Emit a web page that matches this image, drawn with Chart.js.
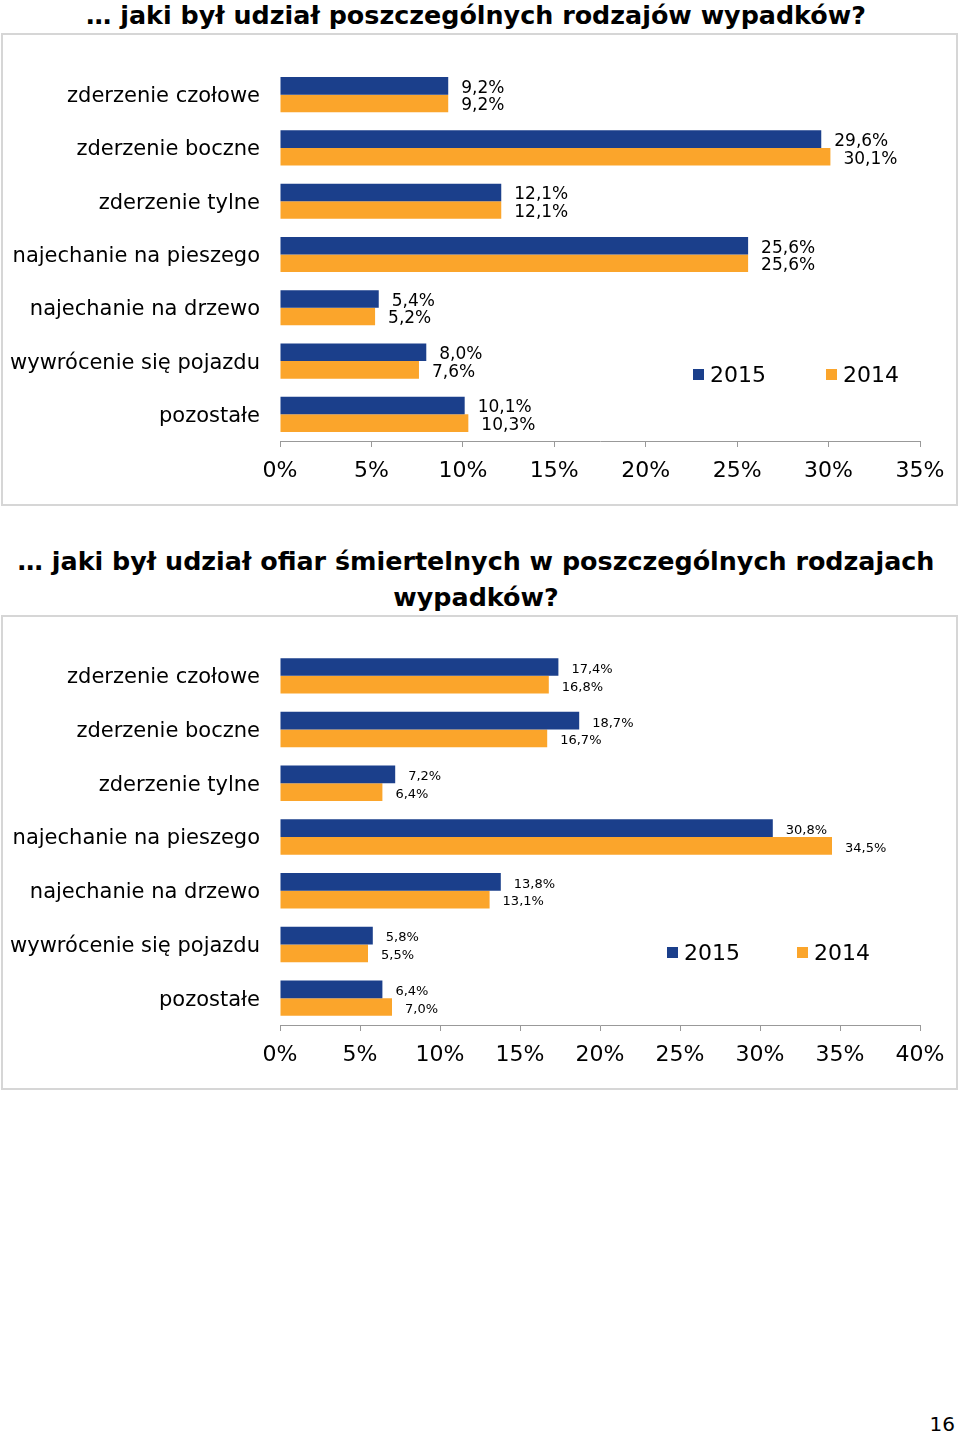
<!DOCTYPE html>
<html><head><meta charset="utf-8">
<script src="https://cdn.jsdelivr.net/npm/chart.js@4/dist/chart.umd.min.js"></script>
<style>
body{margin:0;width:960px;height:1434px;position:relative;background:#fff;font-family:"DejaVu Sans",Verdana,sans-serif;overflow:hidden}
.title{position:absolute;left:0;width:952px;text-align:center;font-weight:bold;font-size:25.4px;line-height:36px;color:#000;white-space:nowrap}
.box{position:absolute;left:1px;width:957px;border:2px solid #d6d6d6;box-sizing:border-box}
.wrap{position:absolute;left:0;width:960px}
.pnum{position:absolute;right:5px;top:1412px;font-size:20px;line-height:24px}
</style></head>
<body>
<div class="title" style="top:-3px">… jaki był udział poszczególnych rodzajów wypadków?</div>
<div class="box" style="top:33px;height:473px"></div>
<div class="wrap" style="top:33px;height:473px"><canvas id="c1"></canvas></div>
<div class="title" style="top:543px">… jaki był udział ofiar śmiertelnych w poszczególnych rodzajach<br>wypadków?</div>
<div class="box" style="top:615px;height:475px"></div>
<div class="wrap" style="top:615px;height:475px"><canvas id="c2"></canvas></div>
<div class="pnum">16</div>
<script>
const categories = ['zderzenie czołowe','zderzenie boczne','zderzenie tylne','najechanie na pieszego','najechanie na drzewo','wywrócenie się pojazdu','pozostałe'];
const seriesLabels = ['2015','2014'];
const accidents2015 = [9.2,29.6,12.1,25.6,5.4,8.0,10.1];
const accidents2014 = [9.2,30.1,12.1,25.6,5.2,7.6,10.3];
const fatal2015 = [17.4,18.7,7.2,30.8,13.8,5.8,6.4];
const fatal2014 = [16.8,16.7,6.4,34.5,13.1,5.5,7.0];
const accidentsTicks = [0,5,10,15,20,25,30,35];
const fatalTicks = [0,5,10,15,20,25,30,35,40];

const BLUE = '#1b3f8b', ORANGE = '#fba52b';
Chart.defaults.font.family = '"DejaVu Sans", Verdana, sans-serif';
Chart.defaults.color = '#000';

const fmt = v => v.toFixed(1).replace('.', ',') + '%';

const valueLabels = {
  id: 'valueLabels',
  afterDatasetsDraw(chart, args, opts) {
    const ctx = chart.ctx;
    ctx.save();
    ctx.font = opts.size + 'px "DejaVu Sans", Verdana, sans-serif';
    ctx.fillStyle = '#000';
    ctx.textAlign = 'left';
    ctx.textBaseline = 'middle';
    chart.data.datasets.forEach((ds, di) => {
      chart.getDatasetMeta(di).data.forEach((bar, i) => {
        ctx.fillText(fmt(ds.data[i]), bar.x + 13, bar.y + 2.5);
      });
    });
    ctx.restore();
  }
};

const inLegend = {
  id: 'inLegend',
  afterDraw(chart, args, opts) {
    const ctx = chart.ctx;
    ctx.save();
    ctx.font = '22px "DejaVu Sans", Verdana, sans-serif';
    ctx.textBaseline = 'middle';
    ctx.textAlign = 'left';
    chart.data.datasets.forEach((ds, di) => {
      const x = opts.xs[di];
      ctx.fillStyle = ds.backgroundColor;
      ctx.fillRect(x, opts.y - 5, 11, 11);
      ctx.fillStyle = '#000';
      ctx.fillText(ds.label, x + 17, opts.y + 2);
    });
    ctx.restore();
  }
};

function makeChart(id, s15, s14, ticks, top, xH, labelSize, legendY, legendXs) {
  const maxV = ticks[ticks.length - 1];
  return new Chart(document.getElementById(id), {
    type: 'bar',
    data: {
      labels: categories,
      datasets: [
        {label: seriesLabels[0], data: s15, backgroundColor: BLUE, categoryPercentage: 0.66, barPercentage: 1.0},
        {label: seriesLabels[1], data: s14, backgroundColor: ORANGE, categoryPercentage: 0.66, barPercentage: 1.0}
      ]
    },
    options: {
      indexAxis: 'y',
      responsive: true,
      maintainAspectRatio: false,
      animation: false,
      layout: {padding: {top: top, right: 40, left: 0, bottom: 0}},
      plugins: {
        legend: {display: false},
        tooltip: {enabled: false},
        valueLabels: {size: labelSize},
        inLegend: {y: legendY, xs: legendXs}
      },
      scales: {
        x: {
          min: 0, max: maxV,
          afterBuildTicks: s => { s.ticks = ticks.map(v => ({value: v})); },
          afterFit: s => { s.height = xH; },
          ticks: {callback: v => v + '%', font: {size: 22}, padding: 11, color: '#000', maxRotation: 0},
          grid: {drawOnChartArea: false, drawTicks: true, tickLength: 6, color: '#999'},
          border: {display: true, color: '#999', width: 1}
        },
        y: {
          afterFit: s => { s.width = 280; },
          ticks: {font: {size: 21}, padding: 20, color: '#000', labelOffset: 2},
          grid: {display: false, drawTicks: false},
          border: {display: false}
        }
      }
    },
    plugins: [valueLabels, inLegend]
  });
}

makeChart('c1', accidents2015, accidents2014, accidentsTicks, 35, 65, 17, 341, [693, 826]);
makeChart('c2', fatal2015, fatal2014, fatalTicks, 34, 65, 13, 337, [667, 797]);
</script>
</body></html>
